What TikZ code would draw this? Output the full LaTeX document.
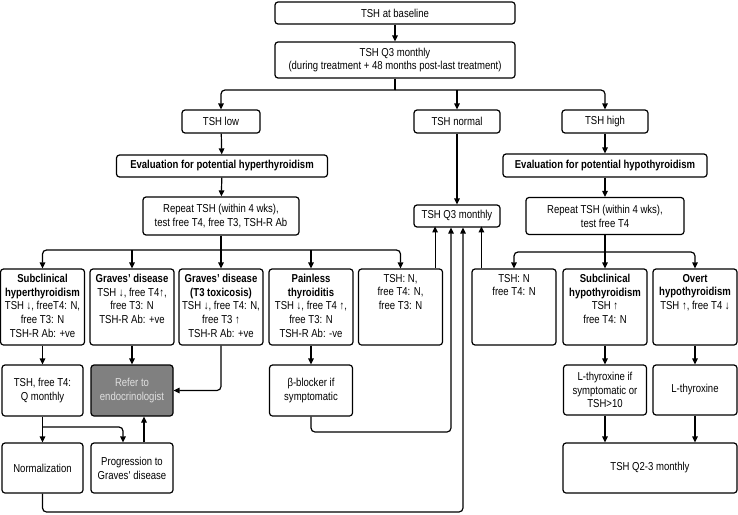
\documentclass[tikz,border=0pt]{standalone}
\usepackage{fontspec}
\setmainfont{Liberation Sans}[FakeStretch=0.83]
\usetikzlibrary{arrows.meta}

\newcommand{\toptext}[1]{\parbox[c][66pt][t]{84pt}{\centering #1}}

\tikzset{
	box/.style={draw, rounded corners=3pt, line width=1.2pt, inner sep=0pt, align=center,
		font=\fontsize{11.5}{13.8}\selectfont},
	line/.style={line width=1.2pt, rounded corners=4pt},
	link/.style={line, -{Triangle[length=6pt,width=5.5pt]}},
}

\begin{document}
\begin{tikzpicture}[x=1pt,y=-1pt]
			\useasboundingbox (0,0) rectangle (738,514);
			% top
			\node[box, minimum width=240, minimum height=22] (base) at (395,13) {TSH at baseline};
			\node[box, minimum width=240, minimum height=36] (q3) at (395,60) {TSH Q3 monthly\\(during treatment + 48 months post-last treatment)};
			\node[box, minimum width=78, minimum height=23] (low) at (221,121.5) {TSH low};
			\node[box, minimum width=86, minimum height=23] (normal) at (457,121.5) {TSH normal};
			\node[box, minimum width=86, minimum height=23] (high) at (605,121.5) {TSH high};
			\node[box, minimum width=211, minimum height=22, font=\fontsize{11.5}{13.8}\selectfont\bfseries] (evhyper) at (222,166) {Evaluation for potential hyperthyroidism};
			\node[box, minimum width=204, minimum height=23, font=\fontsize{11.5}{13.8}\selectfont\bfseries] (evhypo) at (605,165.5) {Evaluation for potential hypothyroidism};
			\node[box, minimum width=156, minimum height=38] (rep1) at (221,216) {Repeat TSH (within 4 wks),\\test free T4, free T3, TSH-R Ab};
			\node[box, minimum width=86, minimum height=22] (midq) at (457,216) {TSH Q3 monthly};
			\node[box, minimum width=158, minimum height=37] (rep2) at (605,216) {Repeat TSH (within 4 wks),\\test free T4};
			% findings
			\node[box, minimum width=81, minimum height=76] (hypsub) at (42.5,307) {\toptext{\textbf{Subclinical}\\\textbf{hyperthyroidism}\\TSH ↓, freeT4: N,\\free T3: N\\TSH-R Ab: +ve}};
			\node[box, minimum width=82, minimum height=76] (graves) at (132,307) {\toptext{\textbf{Graves’ disease}\\TSH ↓, free T4↑,\\free T3: N\\TSH-R Ab: +ve}};
			\node[box, minimum width=83, minimum height=76] (gravesT3) at (221,307) {\toptext{\textbf{Graves’ disease}\\\textbf{(T3 toxicosis)}\\TSH ↓, free T4: N,\\free T3 ↑\\TSH-R Ab: +ve}};
			\node[box, minimum width=83, minimum height=76] (painless) at (311,307) {\toptext{\textbf{Painless}\\\textbf{thyroiditis}\\TSH ↓, free T4 ↑,\\free T3: N\\TSH-R Ab: -ve}};
			\node[box, minimum width=84, minimum height=76] (lowN) at (400.5,307) {\toptext{TSH: N,\\free T4: N,\\free T3: N}};
			\node[box, minimum width=83, minimum height=76] (highN) at (514,307) {\toptext{TSH: N\\free T4: N}};
			\node[box, minimum width=83, minimum height=76] (hyposub) at (605,307) {\toptext{\textbf{Subclinical}\\\textbf{hypothyroidism}\\TSH ↑\\free T4: N}};
			\node[box, minimum width=84, minimum height=76] (overt) at (695,307) {\toptext{\textbf{Overt}\\\textbf{hypothyroidism}\\TSH ↑, free T4 ↓}};
			% actions
			\node[box, minimum width=81, minimum height=51] (qmonth) at (42.5,390.5) {TSH, free T4:\\Q monthly};
			\node[box, minimum width=82, minimum height=51, fill=black!50, text=black!12] (refer) at (132,390.5) {Refer to\\endocrinologist};
			\node[box, minimum width=83, minimum height=51] (beta) at (311,390.5) {β-blocker if\\symptomatic};
			\node[box, minimum width=83, minimum height=50] (lthyif) at (605,390) {L-thyroxine if\\symptomatic or\\TSH>10};
			\node[box, minimum width=84, minimum height=50] (lthy) at (695,390) {L-thyroxine};
			\node[box, minimum width=81, minimum height=50] (norm) at (42.5,468) {Normalization};
			\node[box, minimum width=82, minimum height=50] (prog) at (132,468) {Progression to\\Graves\textquotesingle{} disease};
			\node[box, minimum width=174, minimum height=50] (q23) at (650,468) {TSH Q2-3 monthly};
			% connectors
			\coordinate (s1) at (395,90);
			\coordinate (s2) at (221,250);
			\coordinate (s3) at (605,252);
			\coordinate (s4) at (42.5,427);
			\coordinate (c1) at (463,512);
			\coordinate (c2) at (451,432);
			\draw[link] (base) -- (q3);
			\draw[line] (q3.south) -- (s1);
			\draw[link] (s1) -| (low.north);
			\draw[link] (s1) -| (high.north);
			\draw[link] (s1 -| normal.north) -- (normal.north);
			\draw[link] (low) -- (evhyper);
			\draw[link] (evhyper) -- (rep1);
			\draw[link] (high) -- (evhypo);
			\draw[link] (evhypo) -- (rep2);
			\draw[link] (normal) -- (midq);
			\draw[line] (rep1.south) -- (s2);
			\draw[link] (s2) -| (hypsub.north);
			\draw[link] (s2) -| (lowN.north);
			\draw[link] (s2 -| graves.north) -- (graves.north);
			\draw[link] (s2) -- (gravesT3.north);
			\draw[link] (s2 -| painless.north) -- (painless.north);
			\draw[line] (rep2.south) -- (s3);
			\draw[link] (s3) -| (highN.north);
			\draw[link] (s3) -| (overt.north);
			\draw[link] (s3) -- (hyposub.north);
			\draw[link] ([xshift=-8pt]lowN.north east) -- ++(0,-42);
			\draw[link] ([xshift=10pt]highN.north west) -- ++(0,-42);
			\draw[link] (hypsub) -- (qmonth);
			\draw[link] (graves) -- (refer);
			\draw[link] (gravesT3.south) |- (refer.east);
			\draw[link] (painless) -- (beta);
			\draw[link] (hyposub) -- (lthyif);
			\draw[link] (overt) -- (lthy);
			\draw[link] (lthyif) -- (lthyif.south |- q23.north);
			\draw[link] (lthy) -- (lthy.south |- q23.north);
			\draw[line] (qmonth.south) -- (s4);
			\draw[link] (s4) -- (norm.north);
			\draw[link] (s4) -| ([xshift=-9pt]prog.north);
			\draw[link] ([xshift=12pt]prog.north) -- ([xshift=12pt]refer.south);
			\draw[link] (norm.south) |- (c1) -- (c1 |- midq.south);
			\draw[link] (beta.south) |- (c2) -- (c2 |- midq.south);
		\end{tikzpicture}
\end{document}
